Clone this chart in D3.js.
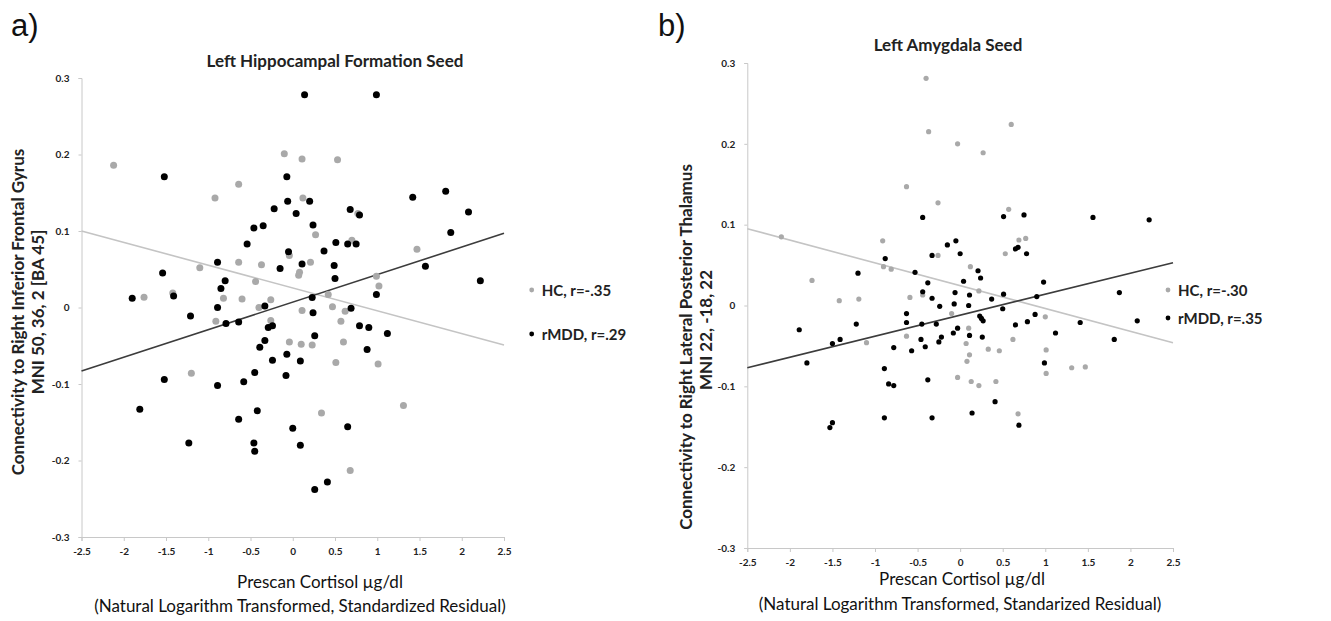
<!DOCTYPE html>
<html>
<head>
<meta charset="utf-8">
<script src="https://cdn.jsdelivr.net/npm/d3@7"></script>
<style>
  body { margin: 0; background: #fff; }
  text { font-family: Lato, "Open Sans", sans-serif; }
</style>
</head>
<body>
<svg id="chart" width="1331" height="621"></svg>
<script>
// ---- data ----
var xTicks = [-2.5, -2, -1.5, -1, -0.5, 0, 0.5, 1, 1.5, 2, 2.5];
var yTicks = [-0.3, -0.2, -0.1, 0, 0.1, 0.2, 0.3];

// a) Left Hippocampal Formation Seed
var hippHC = [[-2.12,0.186],[-0.64,0.161],[-0.92,0.143],[-0.10,0.201],[-1.10,0.052],[-0.64,0.059],[-0.37,0.056],
  [-0.44,0.034],[-1.42,0.019],[-1.76,0.0135],[-0.82,0.012],[-0.60,0.011],[-0.26,0.010],[-0.40,0.0],[-0.04,0.068],
  [0.11,0.194],[0.53,0.193],[0.12,0.143],[0.77,0.123],[0.27,0.095],[0.70,0.088],[0.21,0.059],[0.08,0.046],
  [0.07,0.042],[1.47,0.076],[0.99,0.041],[1.02,0.028],[0.42,0.017],[0.47,0.001],[0.11,-0.004],[0.62,-0.005],
  [0.57,-0.018],[-0.91,-0.018],[-0.26,-0.017],[-1.20,-0.086],[-0.04,-0.045],[0.10,-0.048],[0.23,-0.049],
  [0.60,-0.045],[0.51,-0.072],[1.01,-0.074],[0.34,-0.138],[1.31,-0.128],[0.68,-0.213]];
var hippMDD = [[-1.52,0.171],[-0.07,0.171],[-0.06,0.139],[-0.22,0.129],[-0.46,0.104],[-0.35,0.107],[-0.54,0.083],
  [-0.05,0.073],[-0.15,0.051],[-0.89,0.059],[-1.54,0.045],[-0.80,0.035],[-0.85,0.025],[-1.41,0.015],[-1.90,0.012],
  [-0.89,0.0],[-0.33,0.002],[0.14,0.278],[0.99,0.278],[0.20,0.139],[0.04,0.123],[0.24,0.108],[0.68,0.128],
  [0.79,0.121],[1.42,0.144],[1.81,0.152],[2.08,0.125],[1.87,0.098],[0.51,0.085],[0.65,0.083],[0.75,0.083],
  [0.37,0.074],[0.11,0.057],[0.49,0.055],[0.50,0.038],[1.57,0.054],[2.22,0.035],[0.99,0.017],[0.23,0.013],
  [0.69,-0.001],[-1.21,-0.011],[-0.79,-0.021],[-0.64,-0.019],[-0.29,-0.026],[-0.24,-0.024],[-0.33,-0.043],
  [-0.39,-0.052],[-0.24,-0.069],[-0.45,-0.085],[-0.07,-0.061],[-0.08,-0.089],[-1.52,-0.094],[-0.89,-0.102],
  [-0.58,-0.097],[-1.81,-0.133],[-0.42,-0.135],[-0.64,-0.146],[-1.23,-0.177],[-0.46,-0.177],[-0.45,-0.188],
  [0.24,-0.007],[0.79,-0.024],[0.90,-0.026],[1.12,-0.034],[0.26,-0.037],[0.09,-0.070],[0.88,-0.055],
  [0.00,-0.158],[0.65,-0.156],[0.09,-0.180],[0.41,-0.228],[0.26,-0.238]];
var hippFitHC = [[-2.5,0.100],[2.5,-0.049]];
var hippFitMDD = [[-2.5,-0.083],[2.5,0.097]];

// b) Left Amygdala Seed
var amygHC = [[-0.40,0.281],[-0.37,0.215],[-0.63,0.147],[-0.26,0.127],[-2.10,0.085],[-0.91,0.080],[-0.26,0.062],
  [-0.90,0.048],[-0.81,0.045],[-1.74,0.031],[-1.42,0.006],[-1.19,0.008],[-0.59,0.010],[-0.44,0.013],
  [0.60,0.224],[-0.03,0.200],[0.27,0.189],[0.57,0.119],[0.69,0.081],[0.77,0.083],[0.53,0.064],[0.12,0.048],
  [0.22,0.018],[-1.10,-0.046],[-0.63,-0.038],[-0.10,-0.010],[0.10,-0.028],[0.07,-0.047],[0.11,-0.061],
  [0.08,-0.069],[0.33,-0.054],[0.46,-0.056],[0.62,-0.042],[1.00,-0.014],[1.01,-0.055],[1.01,-0.084],
  [1.31,-0.077],[1.47,-0.076],[-0.03,-0.089],[0.13,-0.094],[0.22,-0.099],[0.42,-0.094],[0.68,-0.134]];
var amygMDD = [[-0.44,0.109],[-0.33,0.062],[-0.88,0.058],[-1.20,0.040],[-0.53,0.041],[-0.38,0.028],[-0.44,0.017],
  [-0.33,0.009],[-0.24,-0.001],[0.51,0.110],[0.75,0.112],[1.56,0.109],[2.22,0.106],[-0.15,0.075],[-0.05,0.080],
  [0.00,0.064],[0.65,0.070],[0.68,0.072],[0.78,0.064],[0.21,0.043],[0.24,0.034],[0.04,0.030],[0.98,0.029],
  [-0.06,0.016],[0.11,0.013],[0.37,0.008],[0.51,0.014],[0.90,0.011],[1.87,0.016],[-0.07,0.002],[0.10,0.000],
  [0.50,-0.004],[-1.89,-0.030],[-1.80,-0.071],[-1.50,-0.047],[-1.41,-0.042],[-1.22,-0.023],[-0.63,-0.010],
  [-0.63,-0.021],[-0.45,-0.023],[-0.28,-0.023],[-0.25,-0.045],[-0.46,-0.042],[-0.41,-0.051],[-0.78,-0.052],
  [-0.57,-0.056],[-0.89,-0.078],[-0.84,-0.097],[-0.78,-0.099],[-0.38,-0.092],[-0.89,-0.139],[-0.33,-0.139],
  [-1.50,-0.145],[-1.53,-0.151],[0.23,-0.013],[0.25,-0.016],[0.27,-0.019],[-0.03,-0.028],[-0.08,-0.034],
  [0.11,-0.037],[0.26,-0.039],[-0.22,-0.039],[0.65,-0.024],[0.79,-0.020],[0.88,-0.011],[1.12,-0.034],
  [1.41,-0.021],[1.81,-0.042],[2.08,-0.019],[0.99,-0.071],[0.41,-0.119],[0.14,-0.133],[0.69,-0.148]];
var amygFitHC = [[-2.5,0.095],[2.5,-0.046]];
var amygFitMDD = [[-2.5,-0.077],[2.5,0.053]];

var svg = d3.select("#chart");

function drawPanel(p) {
  var x = d3.scaleLinear().domain([-2.5, 2.5]).range([p.left, p.right]);
  var y = d3.scaleLinear().domain([-0.3, 0.3]).range([p.bottom, p.top]);
  var g = svg.append("g");

  var xAxis = g.append("g")
    .attr("transform", "translate(0," + p.bottom + ")")
    .call(d3.axisBottom(x).tickValues(xTicks).tickFormat(function(d) { return String(d); })
      .tickSize(4).tickPadding(7));
  var yAxis = g.append("g")
    .attr("transform", "translate(" + p.left + ",0)")
    .call(d3.axisLeft(y).tickValues(yTicks).tickFormat(function(d) { return String(d); })
      .tickSize(3).tickPadding(9));
  [xAxis, yAxis].forEach(function(a) {
    a.select(".domain").attr("stroke", "#c8c8c8");
    a.selectAll(".tick line").attr("stroke", "#c8c8c8");
    a.selectAll("text").attr("fill", "#222").style("font-size", "10px").style("font-weight", "bold");
  });

  var line = d3.line().x(function(d) { return x(d[0]); }).y(function(d) { return y(d[1]); });
  g.append("path").datum(p.fitHC).attr("d", line).attr("stroke", "#c4c4c4").attr("stroke-width", 1.6).attr("fill", "none");
  g.append("path").datum(p.fitMDD).attr("d", line).attr("stroke", "#3c3c3c").attr("stroke-width", 1.6).attr("fill", "none");

  g.selectAll(".hc").data(p.hc).enter().append("circle")
    .attr("cx", function(d) { return x(d[0]); }).attr("cy", function(d) { return y(d[1]); })
    .attr("r", p.r).attr("fill", "#a9a9a9");
  g.selectAll(".mdd").data(p.mdd).enter().append("circle")
    .attr("cx", function(d) { return x(d[0]); }).attr("cy", function(d) { return y(d[1]); })
    .attr("r", p.r).attr("fill", "#000");

  // panel letter + title
  svg.append("text").attr("x", p.letterX).attr("y", 36).text(p.letter)
    .style("font-family", "'Liberation Sans', Arial, sans-serif").style("font-size", "31px").attr("fill", "#111");
  svg.append("text").attr("x", p.titleX).attr("y", p.titleY).attr("text-anchor", "middle").text(p.title)
    .style("font-size", "17px").style("font-weight", "bold").attr("fill", "#222");

  // y title (two rotated lines)
  p.yTitle.forEach(function(t, i) {
    svg.append("text")
      .attr("transform", "translate(" + p.yTitleX[i] + "," + p.yTitleY[i] + ") rotate(-90)")
      .attr("text-anchor", "middle").text(t)
      .style("font-size", "17px").style("font-weight", "bold").attr("fill", "#222");
  });

  // x title
  p.xTitle.forEach(function(t, i) {
    svg.append("text").attr("x", p.xTitleX[i]).attr("y", p.xTitleY[i]).attr("text-anchor", "middle").text(t)
      .style("font-size", "17px").attr("fill", "#111");
  });

  // legend
  p.legend.forEach(function(l, i) {
    svg.append("circle").attr("cx", p.legX).attr("cy", p.legY[i]).attr("r", 2.4).attr("fill", l.color);
    svg.append("text").attr("x", p.legX + 10).attr("y", p.legY[i] + 6).text(l.label)
      .style("font-size", "15px").style("font-weight", "bold").attr("fill", "#222");
  });
}

drawPanel({
  left: 81.5, right: 504, top: 78, bottom: 537, r: 3.5,
  hc: hippHC, mdd: hippMDD, fitHC: hippFitHC, fitMDD: hippFitMDD,
  letter: "a)", letterX: 11,
  title: "Left Hippocampal Formation Seed", titleX: 335, titleY: 67,
  yTitle: ["Connectivity to Right Inferior Frontal Gyrus", "MNI 50, 36, 2 [BA 45]"],
  yTitleX: [24, 44], yTitleY: [312, 312],
  xTitle: ["Prescan Cortisol \u00b5g/dl", "(Natural Logarithm Transformed, Standardized Residual)"],
  xTitleX: [320, 300], xTitleY: [588, 612],
  legX: 531.7, legY: [290, 334],
  legend: [{ label: "HC, r=-.35", color: "#a9a9a9" }, { label: "rMDD, r=.29", color: "#000" }]
});

drawPanel({
  left: 747.3, right: 1173, top: 63, bottom: 548, r: 2.6,
  hc: amygHC, mdd: amygMDD, fitHC: amygFitHC, fitMDD: amygFitMDD,
  letter: "b)", letterX: 658,
  title: "Left Amygdala Seed", titleX: 948, titleY: 51,
  yTitle: ["Connectivity to Right Lateral Posterior Thalamus", "MNI 22, -18, 22"],
  yTitleX: [692, 712], yTitleY: [347, 330],
  xTitle: ["Prescan Cortisol \u00b5g/dl", "(Natural Logarithm Transformed, Standarized Residual)"],
  xTitleX: [962, 960], xTitleY: [585, 610],
  legX: 1168, legY: [290, 318],
  legend: [{ label: "HC, r=-.30", color: "#a9a9a9" }, { label: "rMDD, r=.35", color: "#000" }]
});
</script>
</body>
</html>
